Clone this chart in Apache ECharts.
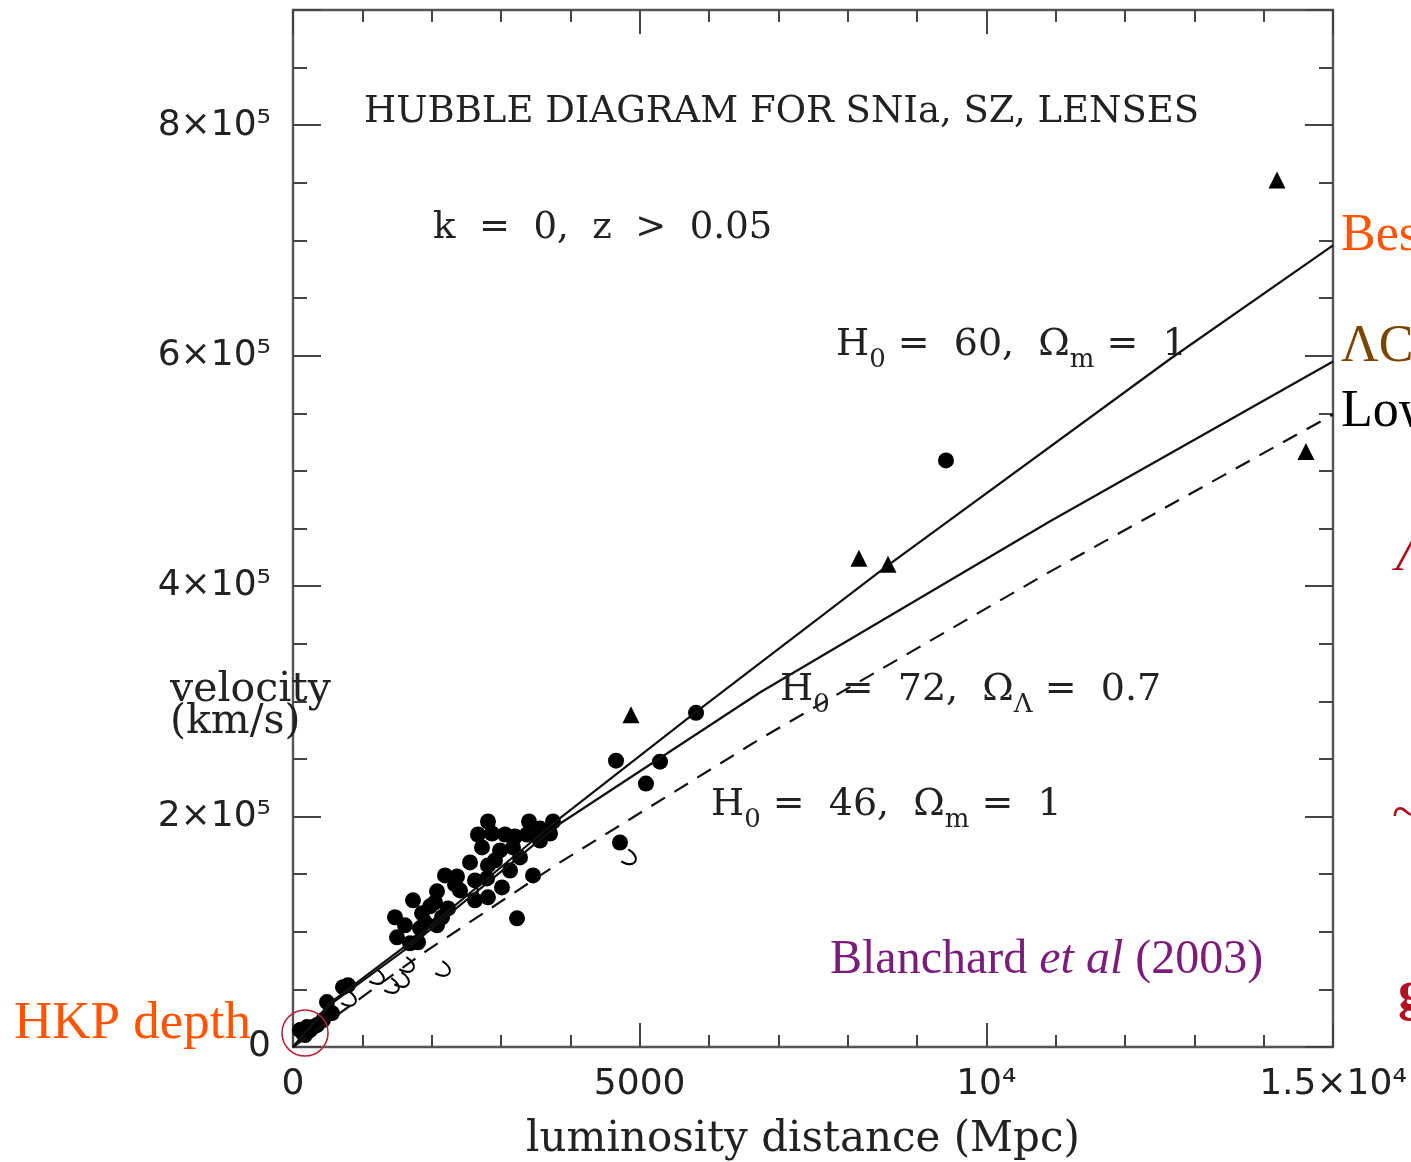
<!DOCTYPE html>
<html>
<head>
<meta charset="utf-8">
<script src="https://cdn.jsdelivr.net/npm/echarts@6/dist/echarts.min.js"></script>
<style>
  html, body { margin: 0; padding: 0; background: #fff; }
  #chart { width: 1411px; height: 1162px; }
</style>
</head>
<body>
<div id="chart"></div>
<script>
// luminosity distance (Mpc), velocity (km/s)
const snDots = [
  [2812, 195700], [3404, 195700], [3750, 195700], [2668, 184400], [2870, 185300],
  [3375, 184400], [3707, 185300], [2726, 173200], [2986, 170600], [3173, 173200],
  [3274, 164500], [2812, 157600], [3462, 148900], [2365, 148000], [2625, 144600],
  [2798, 146300], [3014, 138500], [2077, 135100], [2409, 135900], [2812, 129900],
  [1731, 127300], [2048, 125500], [2236, 120300], [2149, 112600], [1861, 116000],
  [1471, 112600], [3231, 111700], [1904, 108200], [2077, 105600], [1500, 95200],
  [1803, 90900], [1688, 90000], [721, 51900], [793, 53700], [490, 39000],
  [562, 29400], [433, 23400], [288, 17300], [202, 17300], [144, 12100],
  [245, 14700], [346, 19000], [101, 14700], [173, 10400],
  [3058, 184400], [3202, 182700], [3562, 179200], [2913, 161900], [2553, 160200],
  [2337, 141100], [2192, 148900], [1976, 122100], [1832, 103000], [1615, 105600],
  [3130, 153200], [3562, 189600], [2625, 127300],
  [4659, 248500], [5293, 247600], [5091, 228600], [4716, 177500], [5813, 290000],
  [9418, 509100]
];
const szTriangles = [
  [14192, 752400], [14610, 516900], [8163, 424200], [8582, 419000], [4875, 288300]
];
const openMarks = [
  [1226, 59700], [1442, 51900], [1587, 57100], [1659, 70100], [2178, 66700],
  [4861, 163600], [2582, 135900], [822, 40700]
];
const hkpCentre = [[173, 12100]];

const curveH60 = [[0, 0], [530, 38000], [1730, 92600], [3810, 196600], [5810, 290600],
  [8570, 417600], [12650, 597100], [15000, 695800]];
const curveLCDM = [[0, 0], [530, 36500], [1730, 89500], [3810, 192200], [6740, 307900],
  [10920, 456300], [15000, 595000]];
const curveH46 = [[0, 0], [1830, 79600], [3850, 160200], [6740, 267500],
  [10920, 412600], [15000, 548900]];

const xTickValues = [0, 5000, 10000, 15000];
const xTickLabels = ['0', '5000', '10\u2074', '1.5\u00d710\u2074'];
const yTickValues = [0, 200000, 400000, 600000, 800000];
const yTickLabels = ['0', '2\u00d710\u2075', '4\u00d710\u2075', '6\u00d710\u2075', '8\u00d710\u2075'];

const chart = echarts.init(document.getElementById('chart'));

const grid = { left: 293, top: 10, width: 1040, height: 1037 };
const lineCol = '#555';
const serif = "'DejaVu Serif', serif";
const times = "'Liberation Serif', serif";

function axis(kind, gridIndex, pos, interval, tickLen, showLine, labels) {
  const a = {
    type: 'value', gridIndex, position: pos, min: 0,
    max: kind === 'x' ? 15000 : 900000, interval,
    axisLine: { show: showLine, onZero: false, lineStyle: { color: lineCol, width: 2.4 } },
    axisTick: { show: true, inside: true, length: tickLen, lineStyle: { color: '#444', width: 2 } },
    splitLine: { show: false },
    axisLabel: { show: false }
  };
  if (labels) {
    const [vals, txt] = labels;
    a.axisLabel = {
      show: true,
      color: '#222',
      fontFamily: "'DejaVu Sans', sans-serif",
      fontSize: 36,
      margin: kind === 'x' ? 20 : 22,
      formatter: v => { const i = vals.indexOf(v); return i >= 0 ? txt[i] : ''; }
    };
  }
  return a;
}

const sub = { fontFamily: serif, fontSize: 26, lineHeight: 26, verticalAlign: 'bottom', fill: '#222', color: '#222' };
const nrm = { fontFamily: serif, fontSize: 38, lineHeight: 56, fill: '#222', color: '#222' };

function richLabel(x, y, text) {
  return {
    type: 'text', x, y, z: 10,
    style: {
      text, textVerticalAlign: 'middle',
      font: '38px ' + serif, fill: '#222',
      rich: { n: nrm, s: sub }
    }
  };
}

function textAt(x, y, text, font, fill, extra) {
  return {
    type: 'text', x, y, z: 10,
    style: Object.assign({ text, font, fill, textVerticalAlign: 'middle' }, extra || {})
  };
}

const option = {
  animation: false,
  grid: [grid, Object.assign({}, grid)],
  xAxis: [
    axis('x', 0, 'bottom', 1000, 12, true),
    axis('x', 0, 'top', 1000, 12, true),
    axis('x', 1, 'bottom', 5000, 24, false, [xTickValues, xTickLabels]),
    axis('x', 1, 'top', 5000, 24, false)
  ],
  yAxis: [
    axis('y', 0, 'left', 50000, 14, true),
    axis('y', 0, 'right', 50000, 14, true),
    axis('y', 1, 'left', 200000, 28, false, [yTickValues, yTickLabels]),
    axis('y', 1, 'right', 200000, 28, false)
  ],
  series: [
    {
      type: 'line', data: curveH60, symbol: 'none',
      lineStyle: { color: '#111', width: 2.2 }
    },
    {
      type: 'line', data: curveLCDM, symbol: 'none',
      lineStyle: { color: '#111', width: 2.2 }
    },
    {
      type: 'line', data: curveH46, symbol: 'none',
      lineStyle: { color: '#111', width: 2.2, type: [16, 11] }
    },
    {
      type: 'scatter', data: snDots, symbol: 'circle', symbolSize: 16,
      itemStyle: { color: '#000', opacity: 1 }
    },
    {
      type: 'scatter', data: szTriangles, symbol: 'triangle', symbolSize: 17,
      itemStyle: { color: '#000', opacity: 1 }
    },
    {
      type: 'scatter', data: openMarks,
      symbol: 'path://M0,0 C0,14 12,14 12,0', symbolSize: [14, 12], symbolRotate: 60,
      itemStyle: { color: 'rgba(0,0,0,0)', borderColor: '#000', borderWidth: 2, opacity: 1 }
    },
    {
      type: 'scatter', data: hkpCentre, symbol: 'circle', symbolSize: 46, z: 5,
      itemStyle: { color: 'rgba(0,0,0,0)', borderColor: '#b3263a', borderWidth: 1.6, opacity: 1 }
    }
  ],
  graphic: [
    textAt(364, 112, 'HUBBLE DIAGRAM FOR SNIa, SZ, LENSES', '37px ' + serif, '#222'),
    textAt(433, 228, 'k  =  0,  z  >  0.05', '37px ' + serif, '#222'),
    richLabel(836, 345, '{n|H}{s|0}{n| =  60,  \u03a9}{s|m}{n| =  1}'),
    richLabel(780, 690, '{n|H}{s|0}{n| =  72,  \u03a9}{s|\u039b}{n| =  0.7}'),
    richLabel(711, 805, '{n|H}{s|0}{n| =  46,  \u03a9}{s|m}{n| =  1}'),
    textAt(170, 706, 'velocity\n(km/s)', '41px ' + serif, '#222', { lineHeight: 32 }),
    textAt(803, 1140, 'luminosity distance (Mpc)', '42px ' + serif, '#222', { textAlign: 'center' }),
    {
      type: 'text', x: 830, y: 960, z: 10,
      style: {
        text: '{a|Blanchard }{b|et al}{a| (2003)}', textVerticalAlign: 'middle',
        rich: {
          a: { fontFamily: times, fontSize: 48, fill: '#7b1c7b', color: '#7b1c7b' },
          b: { fontFamily: times, fontSize: 48, fontStyle: 'italic', fill: '#7b1c7b', color: '#7b1c7b' }
        }
      }
    },
    textAt(14, 1024, 'HKP depth', '53px ' + times, '#ff5500'),
    textAt(1341, 236, 'Best', '52px ' + times, '#ff5500'),
    textAt(1341, 347, '\u039bCDM', '52px ' + times, '#7a4500'),
    textAt(1341, 412, 'Low', '52px ' + times, '#000'),
    textAt(1396, 556, '\u039b', 'italic 52px ' + times, '#b01020'),
    textAt(1392, 815, '~', '52px ' + times, '#b01020'),
    textAt(1398, 995, 'g', 'bold 56px ' + times, '#b01020')
  ]
};

chart.setOption(option);
</script>
</body>
</html>
